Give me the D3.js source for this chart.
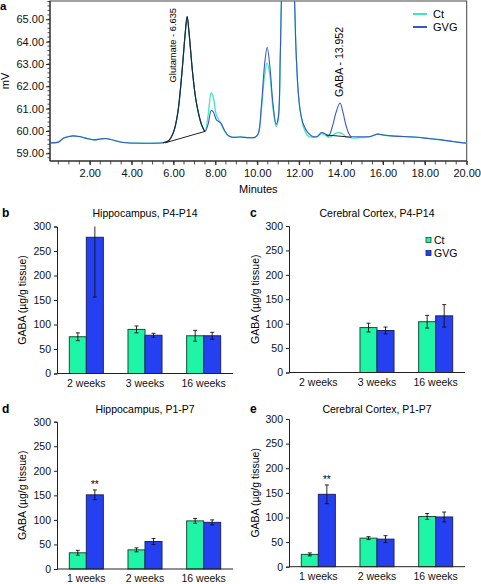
<!DOCTYPE html>
<html><head><meta charset="utf-8">
<script src="https://cdn.jsdelivr.net/npm/d3@7"></script>
<style>
body{margin:0;background:#fff}
svg{display:block;font-family:"Liberation Sans",Arial,Helvetica,sans-serif}
</style>
</head><body>
<svg id="chart" width="481" height="584"></svg>
<script>
// ---------- Panel a: chromatogram data ----------
const chromTime = [0.1,0.5,0.75,1.0,1.2,1.5,1.8,2.2,2.5,2.75,3.0,3.4,3.8,4.5,5.0,5.5,5.75,6.0,6.2,6.4,6.55,6.65,6.75,6.9,7.05,7.2,7.35,7.5,7.65,7.8,7.9,8.05,8.25,8.45,8.6,8.8,9.2,9.6,9.9,10.05,10.2,10.35,10.47,10.6,10.75,10.9,11.0,11.1,11.2,11.5,11.75,11.85,11.95,12.05,12.2,12.4,12.6,12.85,13.05,13.2,13.4,13.6,13.75,13.95,14.1,14.25,14.45,14.7,15.0,15.4,15.75,16.0,16.4,17.0,17.6,18.2,18.8,19.4,20.0];
const chromGVG = [59.47,59.50,59.68,59.75,59.78,59.75,59.68,59.60,59.64,59.66,59.62,59.52,59.47,59.45,59.45,59.47,59.55,59.95,60.8,62.6,64.3,65.12,64.3,62.7,61.5,60.75,60.25,59.98,60.3,60.92,60.85,60.5,60.36,60.0,59.8,59.72,59.73,59.70,59.72,59.9,61.2,63.0,63.75,62.9,61.2,60.3,60.6,63.5,67.0,70.0,66.5,63.6,61.8,60.9,60.3,59.95,59.78,59.75,59.92,59.9,59.78,60.25,60.8,61.25,60.8,60.2,59.77,59.74,59.74,59.75,59.86,59.82,59.78,59.75,59.72,59.66,59.6,59.52,59.45];
const chromCt = [59.47,59.50,59.68,59.75,59.78,59.75,59.68,59.60,59.64,59.66,59.62,59.52,59.47,59.45,59.45,59.47,59.55,59.95,60.8,62.6,64.3,65.12,64.3,62.7,61.5,60.75,60.25,59.98,60.7,61.72,61.5,60.7,60.35,59.98,59.8,59.72,59.73,59.70,59.72,59.88,61.0,62.5,63.05,62.5,61.0,60.2,60.5,63.5,67.0,70.0,66.5,63.6,61.8,60.9,60.2,59.8,59.72,59.74,59.88,59.85,59.72,59.8,59.9,59.92,59.85,59.72,59.7,59.68,59.7,59.75,59.86,59.82,59.78,59.75,59.72,59.66,59.6,59.52,59.45];
const chromSeries = ["Ct","GVG"];
const yTicksA = [59,60,61,62,63,64,65];
const xTicksA = [2,4,6,8,10,12,14,16,18,20];
const peakLabels = ["Glutamate - 6.635","GABA - 13.952"];
const peakTimes = [6.635,13.952];
const glutBaseline = [[5.6,59.47],[7.5,59.98]];
const gabaBaseline = [[13.3,59.82],[14.5,59.72]];

// ---------- Bar panels data ----------
const groupsB = ["2 weeks","3 weeks","16 weeks"];
const ctB = [75,90,77];   const ctErrB = [8,7,11];
const gvgB = [278,78,77]; const gvgErrB = [122,4,7];

const groupsC = ["2 weeks","3 weeks","16 weeks"];
const ctC = [null,92,104]; const ctErrC = [null,9,13];
const gvgC = [null,86,116]; const gvgErrC = [null,7,23];

const groupsD = ["1 weeks","2 weeks","16 weeks"];
const ctD = [33,39,98];   const ctErrD = [5,4,5];
const gvgD = [151,56,95]; const gvgErrD = [10,6,5];
const sigD = ["**","",""];

const groupsE = ["1 weeks","2 weeks","16 weeks"];
const ctE = [25,58,102];  const ctErrE = [3,3,6];
const gvgE = [147,56,101]; const gvgErrE = [19,7,10];
const sigE = ["**","",""];

const barTicks = [0,50,100,150,200,250,300];

const colCtLine = "#3fe6c0", colGVGLine = "#3a57c8";
const colCtBar = "#1ff5a6", colGVGBar = "#2440f0";

const svg = d3.select("#chart");

// ================= Panel a =================
(function(){
  const L=50,R=466.7,T=1,B=161;
  const x = d3.scaleLinear([0.1,20],[L,R]);
  const y = d3.scaleLinear([58.655,65.82],[B,T]);
  const g = svg.append("g");
  g.append("defs").append("clipPath").attr("id","clipA")
    .append("rect").attr("x",L).attr("y",T).attr("width",R-L).attr("height",B-T);
  g.append("rect").attr("x",L).attr("y",T).attr("width",R-L).attr("height",B-T)
    .attr("fill","none").attr("stroke","#444").attr("stroke-width",1);

  const line = d3.line().x(d=>x(d[0])).y(d=>y(d[1])).curve(d3.curveCatmullRom.alpha(0.5));
  const ptsCt = chromTime.map((t,i)=>[t,chromCt[i]]);
  const ptsG = chromTime.map((t,i)=>[t,chromGVG[i]]);
  const pl = g.append("g").attr("clip-path","url(#clipA)");
  pl.append("path").attr("d",line(ptsCt)).attr("fill","none").attr("stroke",colCtLine).attr("stroke-width",1.3);
  pl.append("path").attr("d",line(ptsG)).attr("fill","none").attr("stroke",colGVGLine).attr("stroke-width",1.1);
  const glutPts = ptsG.filter(p=>p[0]>=5.5 && p[0]<=7.5);
  pl.append("path").attr("d",line(glutPts)).attr("fill","none").attr("stroke","#1c2a2a").attr("stroke-width",1.1);
  pl.append("path").attr("d",d3.line().x(d=>x(d[0])).y(d=>y(d[1]))(glutBaseline)).attr("fill","none").attr("stroke","#222").attr("stroke-width",1);
  pl.append("path").attr("d",d3.line().x(d=>x(d[0])).y(d=>y(d[1]))(gabaBaseline)).attr("fill","none").attr("stroke","#222").attr("stroke-width",1);

  // axes
  const ya = d3.axisLeft(y).tickValues(yTicksA).tickFormat(d3.format(".2f")).tickSize(4).tickPadding(2);
  const yg = g.append("g").attr("transform",`translate(${L},0)`).call(ya);
  const minorY = d3.range(58.8,65.81,0.2);
  g.append("g").selectAll("line").data(minorY).join("line")
    .attr("x1",L-2.5).attr("x2",L).attr("y1",d=>y(d)).attr("y2",d=>y(d)).attr("stroke","#222").attr("stroke-width",0.8);
  const xa = d3.axisBottom(x).tickValues(xTicksA).tickFormat(d3.format(".2f")).tickSize(4).tickPadding(4);
  const xg = g.append("g").attr("transform",`translate(0,${B})`).call(xa);
  const minorX = d3.range(0.5,20.01,0.5);
  g.append("g").selectAll("line").data(minorX).join("line")
    .attr("x1",d=>x(d)).attr("x2",d=>x(d)).attr("y1",B).attr("y2",B+3.5).attr("stroke","#222").attr("stroke-width",0.8);
  [yg,xg].forEach(a=>{a.select(".domain").remove();a.selectAll("text").attr("font-size",11).attr("fill","#111").attr("font-family","Liberation Sans, Arial");a.selectAll("line").attr("stroke","#222");});
  g.append("line").attr("x1",L).attr("x2",L).attr("y1",T).attr("y2",B).attr("stroke","#222");
  g.append("line").attr("x1",L).attr("x2",R).attr("y1",B).attr("y2",B).attr("stroke","#222");

  g.append("text").attr("transform",`translate(9,${(T+B)/2}) rotate(-90)`).attr("text-anchor","middle")
    .attr("font-size",11).text("mV");
  g.append("text").attr("x",(L+R)/2).attr("y",193).attr("text-anchor","middle").attr("font-size",11).text("Minutes");
  g.append("text").attr("x",0).attr("y",10).attr("font-size",11.5).attr("font-weight","bold").text("a");

  // peak labels (to the left of the glutamate peak, above the GABA peak)
  g.append("text").attr("transform",`translate(${x(peakTimes[0])-11},8) rotate(-90)`).attr("text-anchor","end")
    .attr("font-size",9.3).text(peakLabels[0]);
  g.append("text").attr("transform",`translate(${x(peakTimes[1])+3},97) rotate(-90)`).attr("text-anchor","start")
    .attr("font-size",10.5).text(peakLabels[1]);

  // legend
  const lg = g.append("g");
  [colCtLine,colGVGLine].forEach((c,i)=>{
    lg.append("line").attr("x1",413).attr("x2",427).attr("y1",14+13*i).attr("y2",14+13*i).attr("stroke",c).attr("stroke-width",2);
    lg.append("text").attr("x",433).attr("y",18+13*i).attr("font-size",11).text(chromSeries[i]);
  });
})();

// ================= Bar panels =================
function barPanel(opt){
  const {letter,title,groups,ct,ctErr,gvg,gvgErr,sig,x0,x1,y0,y300,titleY,labelX,legend} = opt;
  const g = svg.append("g");
  const xb = d3.scaleBand().domain(groups).range([x0,x1]).paddingInner(0.42).paddingOuter(0.21);
  const xs = d3.scaleBand().domain(["Ct","GVG"]).range([0,xb.bandwidth()]);
  const y = d3.scaleLinear([0,300],[y0,y300]);
  const rows = groups.map((gr,i)=>[
    {g:gr,s:"Ct",v:ct[i],e:ctErr[i]},
    {g:gr,s:"GVG",v:gvg[i],e:gvgErr[i]}]).flat().filter(d=>d.v!=null);
  g.selectAll("rect.bar").data(rows).join("rect").attr("class","bar")
    .attr("x",d=>xb(d.g)+xs(d.s)).attr("width",xs.bandwidth())
    .attr("y",d=>y(d.v)).attr("height",d=>y(0)-y(d.v))
    .attr("fill",d=>d.s==="Ct"?colCtBar:colGVGBar)
    .attr("stroke",d=>d.s==="Ct"?"#1d4a3c":"#1b2466").attr("stroke-width",1);
  const cx = d=>xb(d.g)+xs(d.s)+xs.bandwidth()/2;
  const eb = g.selectAll("g.eb").data(rows).join("g").attr("class","eb");
  eb.append("line").attr("x1",cx).attr("x2",cx)
    .attr("y1",d=>y(Math.min(300,d.v+d.e))).attr("y2",d=>y(d.v-d.e)).attr("stroke","#111").attr("stroke-width",0.9);
  eb.filter(d=>d.v+d.e<=300).append("line").attr("x1",d=>cx(d)-2).attr("x2",d=>cx(d)+2)
    .attr("y1",d=>y(d.v+d.e)).attr("y2",d=>y(d.v+d.e)).attr("stroke","#111").attr("stroke-width",0.9);
  eb.append("line").attr("x1",d=>cx(d)-2).attr("x2",d=>cx(d)+2)
    .attr("y1",d=>y(d.v-d.e)).attr("y2",d=>y(d.v-d.e)).attr("stroke","#111").attr("stroke-width",0.9);
  if(sig){
    groups.forEach((gr,i)=>{ if(sig[i]) g.append("text").attr("x",xb(gr)+xs("GVG")+xs.bandwidth()/2).attr("y",y(gvg[i]+gvgErr[i])-2)
      .attr("text-anchor","middle").attr("font-size",10).text(sig[i]); });
  }
  const ya = d3.axisLeft(y).tickValues(barTicks).tickSize(3).tickPadding(3);
  const yg = g.append("g").attr("transform",`translate(${x0},0)`).call(ya);
  const xa = d3.axisBottom(xb).tickSize(0).tickPadding(6);
  const xg = g.append("g").attr("transform",`translate(0,${y0})`).call(xa);
  xg.select(".domain").attr("d",`M${x0},0H${x1}`);
  [yg,xg].forEach(a=>{a.selectAll("text").attr("font-size",10.5).attr("fill","#111").attr("font-family","Liberation Sans, Arial");a.selectAll("line,path").attr("stroke","#222");});
  g.append("text").attr("transform",`translate(${labelX},${(y0+y300)/2}) rotate(-90)`).attr("text-anchor","middle")
    .attr("font-size",10.5).text("GABA (µg/g tissue)");
  g.append("text").attr("x",(x0+x1)/2).attr("y",titleY).attr("text-anchor","middle").attr("font-size",10.5).text(title);
  g.append("text").attr("x",opt.letterX).attr("y",titleY).attr("font-size",12).attr("font-weight","bold").text(letter);
  if(legend){
    ["Ct","GVG"].forEach((s,i)=>{
      g.append("rect").attr("x",426).attr("y",237.5+13*i).attr("width",5).attr("height",5)
        .attr("fill",i?colGVGBar:colCtBar).attr("stroke",i?"#1b2466":"#1d4a3c").attr("stroke-width",0.8);
      g.append("text").attr("x",434).attr("y",244+13*i).attr("font-size",10.5).text(s);
    });
  }
}

barPanel({letter:"b",title:"Hippocampus, P4-P14",groups:groupsB,ct:ctB,ctErr:ctErrB,gvg:gvgB,gvgErr:gvgErrB,
  x0:57,x1:233,y0:373.5,y300:226.5,titleY:217,labelX:26,letterX:2});
barPanel({letter:"c",title:"Cerebral Cortex, P4-P14",groups:groupsC,ct:ctC,ctErr:ctErrC,gvg:gvgC,gvgErr:gvgErrC,
  x0:289,x1:465,y0:372.5,y300:226,titleY:217,labelX:259,letterX:250,legend:true});
barPanel({letter:"d",title:"Hippocampus, P1-P7",groups:groupsD,ct:ctD,ctErr:ctErrD,gvg:gvgD,gvgErr:gvgErrD,sig:sigD,
  x0:57,x1:233,y0:569,y300:421.7,titleY:412.5,labelX:26,letterX:2});
barPanel({letter:"e",title:"Cerebral Cortex, P1-P7",groups:groupsE,ct:ctE,ctErr:ctErrE,gvg:gvgE,gvgErr:gvgErrE,sig:sigE,
  x0:289,x1:465,y0:566.7,y300:419,titleY:412.5,labelX:259,letterX:250});
</script>
</body></html>
